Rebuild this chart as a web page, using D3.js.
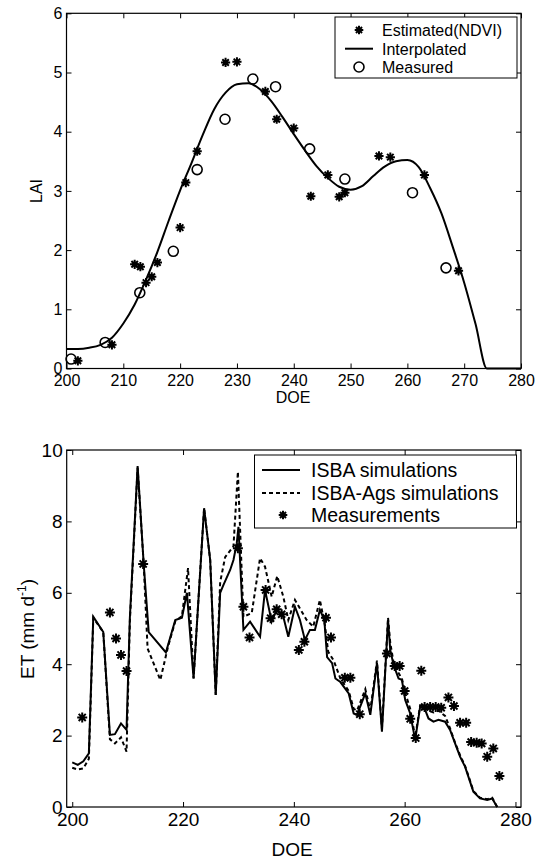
<!DOCTYPE html>
<html><head><meta charset="utf-8">
<script src="https://cdn.jsdelivr.net/npm/d3@7"></script>
<style>body{margin:0;background:#fff}svg{display:block;font-family:Arial,"Liberation Sans",sans-serif}</style>
</head><body><svg id="c" width="537" height="861"></svg>
<script>
// ---------- Top panel data (LAI) ----------
const estDays = [202,208,212,213,214,215,216,220,221,223,228,230,235,237,240,243,246,248,249,255,257,263,269];
const estLAI  = [0.13,0.40,1.76,1.72,1.45,1.55,1.79,2.38,3.14,3.67,5.17,5.18,4.68,4.21,4.06,2.91,3.27,2.90,2.97,3.59,3.57,3.27,1.65];
const measDays = [200.8,206.8,212.9,218.8,223,227.9,232.8,236.8,242.8,249,260.9,266.8];
const measLAI  = [0.16,0.44,1.28,1.98,3.36,4.21,4.89,4.76,3.71,3.20,2.97,1.70];
const interpDays = [200,202,204,206,208,210,212,214,216,218,220,222,224,226,228,230,232,234,236,238,240,242,244,246,248,250,252,254,256,258,260,262,264,266,268,270,272,274,276,278,280];
const interpLAI  = [0.33,0.33,0.35,0.40,0.52,0.76,1.08,1.50,1.97,2.50,3.01,3.47,3.95,4.38,4.66,4.80,4.82,4.72,4.52,4.25,3.96,3.68,3.42,3.22,3.07,3.02,3.08,3.25,3.41,3.50,3.52,3.40,3.05,2.62,2.05,1.45,0.75,0.0,0,0,0];
const topXTicks = [200,210,220,230,240,250,260,270,280];
const topYTicks = [0,1,2,3,4,5,6];
const topLegend = ["Estimated(NDVI)","Interpolated","Measured"];

// ---------- Bottom panel data (ET) ----------
const isbaDays = [200,201,202,203,203.8,205.6,206.8,207.7,208.8,209.8,210.4,211.8,212.9,213.8,216.9,218.6,219.8,220.7,221.9,223.8,224.9,225.9,226.7,227.3,228.5,229.1,229.7,230.0,230.9,232.1,233.9,234.8,236.0,236.9,238.1,239.0,240.2,241.1,242.0,242.9,243.8,244.7,245.5,246.0,246.9,247.5,248.4,249.9,250.8,251.4,252.9,253.8,255.0,255.9,257.0,257.4,258.0,258.9,259.5,260.1,261.0,261.9,262.8,263.7,264.3,265.2,266.1,267.3,268.2,269.1,270.0,270.9,271.5,272.4,273.6,274.9,275.8,276.7];
const isbaET   = [1.25,1.18,1.28,1.50,5.33,4.90,2.02,2.04,2.34,2.16,5.30,9.55,6.80,4.90,4.33,5.24,5.30,6.00,3.60,8.37,6.92,3.14,6.00,6.22,6.64,6.92,7.39,7.85,4.96,5.19,4.77,6.08,5.19,5.52,5.33,4.77,5.61,5.24,4.68,4.96,4.96,5.52,5.24,4.20,4.03,3.60,3.50,3.18,2.62,2.58,3.18,2.58,4.03,2.11,5.24,4.40,3.98,3.60,3.56,3.00,2.62,1.88,2.81,2.72,2.48,2.39,2.44,2.39,2.16,1.78,1.41,1.13,0.85,0.43,0.24,0.20,0.24,0.0];
const agsDays = [200,201,202,203,203.8,205.6,206.8,207.7,208.8,209.8,210.4,211.8,212.9,213.6,215.9,217.3,218.6,219.8,220.9,221.9,223.8,224.9,225.9,226.7,227.6,229.1,229.9,230.9,232.4,233.9,234.8,236.0,237.0,238.1,239.0,240.2,242.3,243.5,244.7,245.6,246.2,247.2,248.4,249.9,250.8,251.4,252.9,253.8,255.0,255.9,257.0,257.4,258.0,258.9,259.5,260.1,261.0,261.9,262.8,263.7,264.3,265.2,266.1,267.3,268.2,269.1,270.0,270.9,271.5,272.4,273.6,274.9,275.8,276.7];
const agsET   = [1.10,1.05,1.08,1.35,5.30,4.90,1.90,1.78,1.95,1.55,5.20,9.50,6.80,4.44,3.56,4.50,5.20,5.35,6.69,3.60,8.37,6.92,3.14,6.30,7.00,7.30,9.39,5.33,5.43,6.97,6.73,5.89,6.47,5.89,5.24,5.80,5.24,5.05,5.80,5.10,4.35,4.10,3.60,3.25,2.75,2.70,3.30,2.70,4.10,2.20,5.30,4.60,4.05,3.75,3.60,3.20,2.75,1.95,2.85,2.80,2.70,2.65,2.70,2.55,2.20,1.80,1.45,1.15,0.88,0.45,0.26,0.22,0.26,0.0];
const obsDays = [201.8,206.8,207.9,208.8,209.8,212.8,229.9,230.9,232.0,234.9,235.8,236.9,237.8,240.9,241.9,245.8,246.7,249.2,250.2,251.9,256.8,258.2,259.1,260.0,261.0,262.0,263.0,263.6,264.6,265.6,266.6,267.9,268.9,270.0,271.1,272.0,273.0,273.9,274.9,276.0,277.1];
const obsET   = [2.51,5.45,4.72,4.26,3.81,6.81,7.25,5.61,4.75,6.08,5.29,5.54,5.40,4.40,4.63,5.30,4.75,3.62,3.62,2.60,4.30,3.95,3.95,3.25,2.47,1.93,3.82,2.80,2.80,2.80,2.78,3.07,2.83,2.36,2.36,1.82,1.80,1.78,1.41,1.64,0.87];
const botXTicks = [200,220,240,260,280];
const botYTicks = [0,2,4,6,8,10];
const botLegend = ["ISBA simulations","ISBA-Ags simulations","Measurements"];

const svg = d3.select("#c");
const FONT = "Arial, 'Liberation Sans', sans-serif";

function star(g, cx, cy, r, sw){
  const p = d3.path();
  for (let k=0;k<4;k++){
    const a = k*Math.PI/4;
    p.moveTo(cx - r*Math.cos(a), cy - r*Math.sin(a));
    p.lineTo(cx + r*Math.cos(a), cy + r*Math.sin(a));
  }
  g.append("path").attr("d", p.toString()).attr("stroke","#000").attr("stroke-width",sw).attr("fill","none");
}

function frame(g, x, y, xt, yt, fs, padX, padY){
  const xr = x.range(), yr = y.range();
  const fmt = d3.format("d");
  const styleText = s=>{s.select(".domain").remove(); s.attr("font-family",FONT); s.selectAll("text").attr("font-size",fs).attr("fill","#000");};
  g.append("g").attr("transform",`translate(0,${yr[0]})`)
    .call(d3.axisBottom(x).tickValues(xt).tickFormat(fmt).tickSizeInner(-5).tickSizeOuter(0).tickPadding(padX))
    .call(styleText);
  g.append("g").attr("transform",`translate(0,${yr[1]})`)
    .call(d3.axisTop(x).tickValues(xt).tickSizeInner(-5).tickSizeOuter(0).tickFormat(""))
    .call(s=>s.select(".domain").remove());
  g.append("g").attr("transform",`translate(${xr[0]},0)`)
    .call(d3.axisLeft(y).tickValues(yt).tickFormat(fmt).tickSizeInner(-5).tickSizeOuter(0).tickPadding(padY))
    .call(styleText);
  g.append("g").attr("transform",`translate(${xr[1]},0)`)
    .call(d3.axisRight(y).tickValues(yt).tickSizeInner(-5).tickSizeOuter(0).tickFormat(""))
    .call(s=>s.select(".domain").remove());
  g.selectAll(".tick line").attr("stroke","#000");
  g.append("rect").attr("x",xr[0]).attr("y",yr[1]).attr("width",xr[1]-xr[0]).attr("height",yr[0]-yr[1])
    .attr("fill","none").attr("stroke","#000").attr("stroke-width",1.2);
}

// ---------- Top panel ----------
const x1 = d3.scaleLinear().domain([200,280]).range([66.5,521]);
const y1 = d3.scaleLinear().domain([0,6]).range([368.5,13.3]);
const g1 = svg.append("g");
const line1 = d3.line().x((d,i)=>x1(interpDays[i])).y(d=>y1(d)).curve(d3.curveMonotoneX);
g1.append("path").attr("d", line1(interpLAI)).attr("fill","none").attr("stroke","#000").attr("stroke-width",2);
estLAI.forEach((v,i)=>star(g1, x1(estDays[i]), y1(v), 4.6, 2));
measLAI.forEach((v,i)=>g1.append("circle").attr("cx",x1(measDays[i])).attr("cy",y1(v)).attr("r",5)
  .attr("fill","none").attr("stroke","#000").attr("stroke-width",1.6));
frame(g1, x1, y1, topXTicks, topYTicks, 16, 6, 4);
g1.append("text").attr("x",293).attr("y",403).attr("text-anchor","middle").attr("font-size",16).text("DOE");
g1.append("text").attr("transform","translate(42,191) rotate(-90)").attr("text-anchor","middle").attr("font-size",16).text("LAI");
// legend
const lg1 = g1.append("g");
lg1.append("rect").attr("x",335).attr("y",17).attr("width",182).attr("height",61).attr("fill","#fff").attr("stroke","#000").attr("stroke-width",1);
const rows1 = [30,48.7,67];
topLegend.forEach((t,i)=>lg1.append("text").attr("x",382).attr("y",rows1[i]+6).attr("font-size",16).text(t));
star(lg1, 359, rows1[0], 4.3, 2);
lg1.append("line").attr("x1",345).attr("x2",373).attr("y1",rows1[1]).attr("y2",rows1[1]).attr("stroke","#000").attr("stroke-width",2);
lg1.append("circle").attr("cx",359).attr("cy",rows1[2]).attr("r",5).attr("fill","none").attr("stroke","#000").attr("stroke-width",1.6);

// ---------- Bottom panel ----------
const x2 = d3.scaleLinear().domain([199,281]).range([66.7,521]);
const y2 = d3.scaleLinear().domain([0,10]).range([807,450]);
const g2 = svg.append("g");
const lineS = d3.line().x((d,i)=>x2(isbaDays[i])).y(d=>y2(d));
const lineD = d3.line().x((d,i)=>x2(agsDays[i])).y(d=>y2(d));
g2.append("path").attr("d", lineD(agsET)).attr("fill","none").attr("stroke","#000").attr("stroke-width",2).attr("stroke-dasharray","4,3");
g2.append("path").attr("d", lineS(isbaET)).attr("fill","none").attr("stroke","#000").attr("stroke-width",2);
obsET.forEach((v,i)=>star(g2, x2(obsDays[i]), y2(v), 5, 2));
frame(g2, x2, y2, botXTicks, botYTicks, 19, 6, 4);
g2.append("text").attr("x",292).attr("y",856).attr("text-anchor","middle").attr("font-size",19).text("DOE");
const et = g2.append("text").attr("transform","translate(34,629) rotate(-90)").attr("text-anchor","middle").attr("font-size",19);
et.append("tspan").text("ET (mm d");
et.append("tspan").attr("font-size",12).attr("dy",-8).text("-1");
et.append("tspan").attr("dy",8).text(")");
// legend
const lg2 = g2.append("g");
lg2.append("rect").attr("x",254.5).attr("y",455).attr("width",262).attr("height",73).attr("fill","#fff").attr("stroke","#000").attr("stroke-width",1);
const rows2 = [470,493,515];
botLegend.forEach((t,i)=>lg2.append("text").attr("x",311).attr("y",rows2[i]+7).attr("font-size",19.5).text(t));
lg2.append("line").attr("x1",262).attr("x2",300).attr("y1",rows2[0]).attr("y2",rows2[0]).attr("stroke","#000").attr("stroke-width",2);
lg2.append("line").attr("x1",262).attr("x2",300).attr("y1",rows2[1]).attr("y2",rows2[1]).attr("stroke","#000").attr("stroke-width",2).attr("stroke-dasharray","4,3");
star(lg2, 283, rows2[2], 4.3, 2);
</script></body></html>
